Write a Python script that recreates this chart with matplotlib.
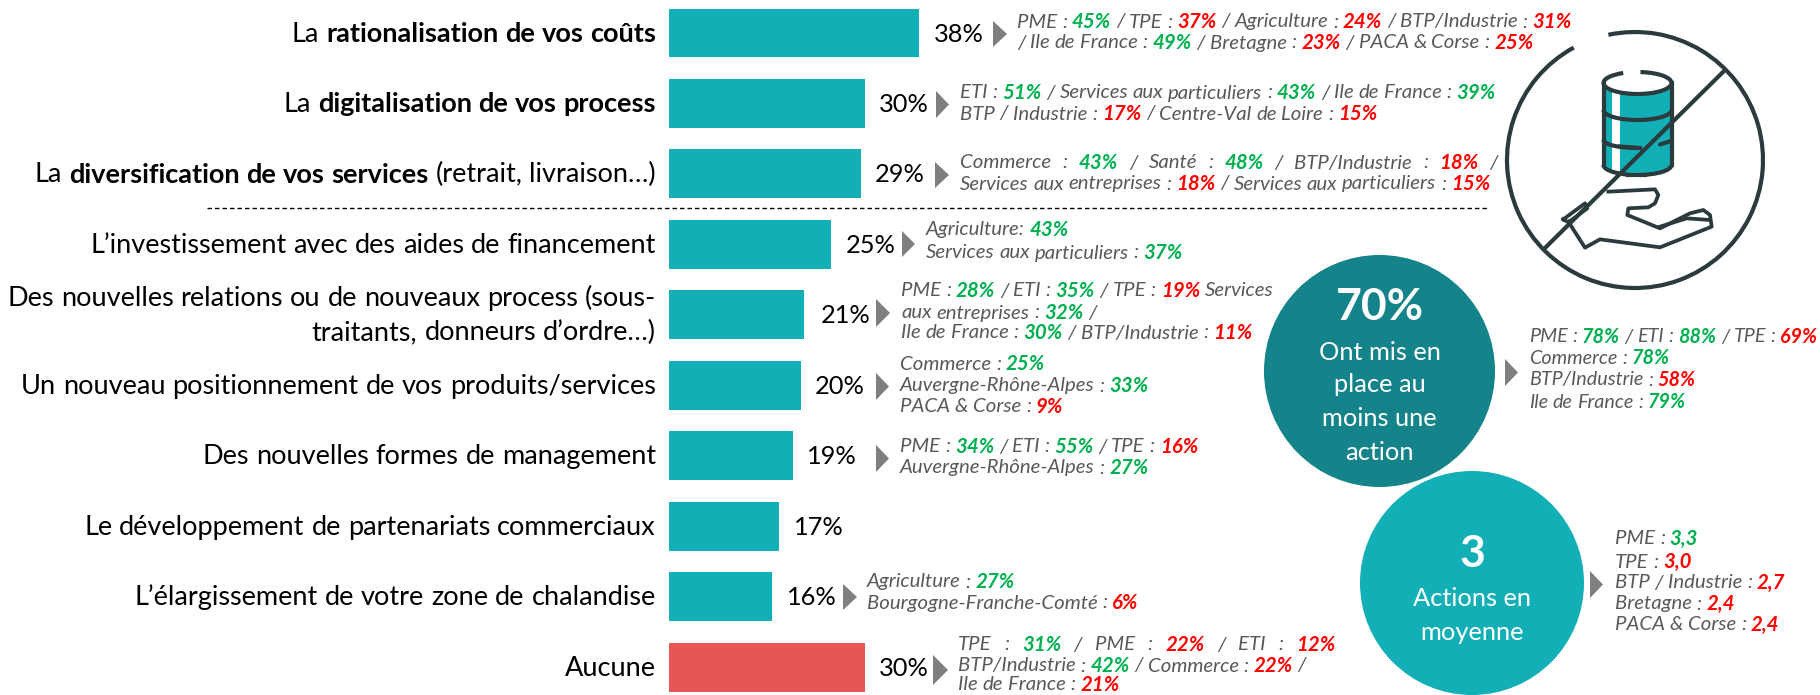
import re
import numpy as np
import matplotlib.pyplot as plt
from matplotlib.patches import Ellipse, Polygon, Arc

plt.rcParams['font.family'] = ['Lato', 'DejaVu Sans']

# data
values = [38.1, 29.9, 29.3, 24.7, 20.7, 20.1, 18.9, 16.8, 15.7, 29.9]
value_labels = ['38%', '30%', '29%', '25%', '21%', '20%', '19%', '17%', '16%', '30%']
# each label: list of lines, each line a list of (text, weight)
labels = [
    [[('La ', 'normal'), ('rationalisation de vos coûts', 'bold')]],
    [[('La ', 'normal'), ('digitalisation de vos process', 'bold')]],
    [[('La ', 'normal'), ('diversification de vos services', 'bold'), (' (retrait, livraison…)', 'normal')]],
    [[('L’investissement avec des aides de financement', 'normal')]],
    [[('Des nouvelles relations ou de nouveaux process (sous-', 'normal')],
     [('traitants, donneurs d’ordre…)', 'normal')]],
    [[('Un nouveau positionnement de vos produits/services', 'normal')]],
    [[('Des nouvelles formes de management', 'normal')]],
    [[('Le développement de partenariats commerciaux', 'normal')]],
    [[('L’élargissement de votre zone de chalandise', 'normal')]],
    [[('Aucune', 'normal')]],
]
# annotation text: t = plain, g = above average, r = below average
notes = [
    [[('PME : ', 't'), ('45%', 'g'), (' / TPE : ', 't'), ('37%', 'r'), (' / Agriculture : ', 't'), ('24%', 'r'), (' / BTP/Industrie : ', 't'), ('31%', 'r')],
     [('/ Ile de France : ', 't'), ('49%', 'g'), (' / Bretagne : ', 't'), ('23%', 'r'), (' / PACA & Corse : ', 't'), ('25%', 'r')]],
    [[('ETI : ', 't'), ('51%', 'g'), (' / Services aux particuliers : ', 't'), ('43%', 'g'), (' / Ile de France : ', 't'), ('39%', 'g')],
     [('BTP / Industrie : ', 't'), ('17%', 'r'), (' / Centre-Val de Loire : ', 't'), ('15%', 'r')]],
    [[('Commerce : ', 't'), ('43%', 'g'), (' / Santé : ', 't'), ('48%', 'g'), (' / BTP/Industrie : ', 't'), ('18%', 'r'), (' /', 't')],
     [('Services aux entreprises : ', 't'), ('18%', 'r'), (' / Services aux particuliers : ', 't'), ('15%', 'r')]],
    [[('Agriculture: ', 't'), ('43%', 'g')],
     [('Services aux particuliers : ', 't'), ('37%', 'g')]],
    [[('PME : ', 't'), ('28%', 'g'), (' / ETI : ', 't'), ('35%', 'g'), (' / TPE : ', 't'), ('19%', 'r'), (' Services', 't')],
     [('aux entreprises : ', 't'), ('32%', 'g'), (' /', 't')],
     [('Ile de France : ', 't'), ('30%', 'g'), (' / BTP/Industrie : ', 't'), ('11%', 'r')]],
    [[('Commerce : ', 't'), ('25%', 'g')],
     [('Auvergne-Rhône-Alpes : ', 't'), ('33%', 'g')],
     [('PACA & Corse : ', 't'), ('9%', 'r')]],
    [[('PME : ', 't'), ('34%', 'g'), (' / ETI : ', 't'), ('55%', 'g'), (' / TPE : ', 't'), ('16%', 'r')],
     [('Auvergne-Rhône-Alpes : ', 't'), ('27%', 'g')]],
    None,
    [[('Agriculture : ', 't'), ('27%', 'g')],
     [('Bourgogne-Franche-Comté : ', 't'), ('6%', 'r')]],
    [[('TPE : ', 't'), ('31%', 'g'), (' / PME : ', 't'), ('22%', 'r'), (' / ETI : ', 't'), ('12%', 'r')],
     [('BTP/Industrie : ', 't'), ('42%', 'g'), (' / Commerce : ', 't'), ('22%', 'r'), (' /', 't')],
     [('Ile de France : ', 't'), ('21%', 'r')]],
]
notes_70 = [
    [('PME : ', 't'), ('78%', 'g'), (' / ETI : ', 't'), ('88%', 'g'), (' / TPE : ', 't'), ('69%', 'r')],
    [('Commerce : ', 't'), ('78%', 'g')],
    [('BTP/Industrie : ', 't'), ('58%', 'r')],
    [('Ile de France : ', 't'), ('79%', 'g')],
]
notes_3 = [
    [('PME : ', 't'), ('3,3', 'g')],
    [('TPE : ', 't'), ('3,0', 'r')],
    [('BTP / Industrie : ', 't'), ('2,7', 'r')],
    [('Bretagne : ', 't'), ('2,4', 'r')],
    [('PACA & Corse : ', 't'), ('2,4', 'r')],
]

TEAL = '#13AFB6'
DARK_TEAL = '#14838A'
RED_BAR = '#E55757'
ICON = '#2B3A3C'
NOTE_COL = {'t': '#595959', 'g': '#00B050', 'r': '#FF0000'}

W, H = 1820, 695
fig = plt.figure(figsize=(W / 100, H / 100), dpi=100)
# overlay in pixel coordinates for the text and the drawing
ax = fig.add_axes([0, 0, 1, 1])
ax.set_xlim(0, W)
ax.set_ylim(H, 0)
ax.axis('off')

# bars
row_y0, row_step = 33, 70.45
bar_left = 668.5
px_per_pct = 6.57
ys = [row_y0 + i * row_step for i in range(len(values))]
bax = fig.add_axes([bar_left / W, 1 - (row_y0 + 9.5 * row_step) / H, 40 * px_per_pct / W, 10 * row_step / H], zorder=1)
bax.set_xlim(0, 40)
bax.set_ylim(9.5, -0.5)
bax.axis('off')
bar_cols = [TEAL] * 9 + [RED_BAR]
bax.barh(range(len(values)), values, height=0.695, color=bar_cols)
ax.set_zorder(2)
ax.patch.set_alpha(0)

renderer = fig.canvas.get_renderer()


def seg_width(s, **kw):
    # trailing/leading spaces are not measured, so pad with dots
    t = ax.text(0, 0, '.' + s + '.', **kw)
    w = t.get_window_extent(renderer).width
    t.set_text('..')
    w -= t.get_window_extent(renderer).width
    t.remove()
    return w


def rich_line(x, y, segs, size, right=None, end=None):
    kws = []
    for s, k in segs:
        if k in NOTE_COL:
            kws.append(dict(color=NOTE_COL[k], style='italic', fontweight='bold' if k != 't' else 'normal', fontsize=size))
        else:
            kws.append(dict(color='black', fontweight=k, fontsize=size))
    widths = [seg_width(s, **kw) for (s, _), kw in zip(segs, kws)]
    if right is not None:
        x = right - sum(widths)
    extra = 0
    if end is not None:
        # justified line, the slack goes into the spaces
        extra = (end - x - sum(widths)) / sum(s.count(' ') for s, _ in segs)
    for (s, _), kw in zip(segs, kws):
        for tok in re.split('( )', s):
            if tok == '':
                continue
            if tok == ' ':
                x += seg_width(' ', **kw) + extra
            else:
                ax.text(x, y, tok, va='center', ha='left', **kw)
                x += seg_width(tok, **kw)


def arrow(x0, x1, y0, y1):
    ax.add_patch(Polygon([(x0, y0), (x1, (y0 + y1) / 2), (x0, y1)], color='#7F7F7F', lw=0))


LABEL_SIZE = 19.5
VALUE_SIZE = 18.3
NOTE_SIZE = 14.7
label_right = 656
val_right = [984, 929, 925, 896, 870, 865, 857, 844, 837, 929]
arrows = [(993, 1007, 21, 47), (936, 949, 91, 118), (935, 949, 162, 188), (902, 915, 231, 257),
          (876, 890, 299, 327), (876, 889, 373, 400), (876, 889, 445, 472), None,
          (843, 857, 584, 610), (933, 948, 655, 685)]
note_x = [1017, 960, 960, 926, 901, 900, 900, None, 867, 958]
note_y = [[22, 43], [93, 114], [163, 184], [230, 253], [291, 313, 333], [364, 386, 407],
          [447, 468], None, [582, 603], [645, 666, 685]]
justify = {(2, 0): 1498, (9, 0): 1335}

for i in range(len(values)):
    lines = labels[i]
    if len(lines) == 1:
        rich_line(0, ys[i] + 1, lines[0], LABEL_SIZE, right=label_right)
    else:
        rich_line(0, ys[i] - 16, lines[0], LABEL_SIZE, right=label_right)
        rich_line(0, ys[i] + 18, lines[1], LABEL_SIZE, right=label_right)
    ax.text(val_right[i], ys[i] + 1, value_labels[i], ha='right', va='center', fontsize=VALUE_SIZE, color='black')
    if arrows[i]:
        arrow(*arrows[i])
    if notes[i]:
        for j, (ln, ny) in enumerate(zip(notes[i], note_y[i])):
            rich_line(note_x[i], ny, ln, NOTE_SIZE, end=justify.get((i, j)))

ax.plot([207, 1489], [208, 208], color='black', lw=1, dashes=(3.2, 2.2))

# circles
ax.add_patch(Ellipse((1379.5, 371), 231, 232, color=DARK_TEAL, lw=0))
ax.add_patch(Ellipse((1472, 583), 224, 224, color=TEAL, lw=0, zorder=3))
ax.text(1379.5, 307, '70%', color='white', fontsize=32, fontweight='bold', ha='center', va='center')
for t, y in zip(['Ont mis en', 'place au', 'moins une', 'action'], [352, 384, 418, 452]):
    ax.text(1379.5, y, t, color='white', fontsize=18.3, ha='center', va='center')
ax.text(1472, 554, '3', color='white', fontsize=32, fontweight='bold', ha='center', va='center', zorder=4)
for t, y in zip(['Actions en', 'moyenne'], [598, 632]):
    ax.text(1472, y, t, color='white', fontsize=18.3, ha='center', va='center', zorder=4)
arrow(1505, 1518, 359, 386)
arrow(1590, 1603, 571, 598)
for ln, y in zip(notes_70, [337, 358, 380, 402]):
    rich_line(1529, y, ln, 14.2)
for ln, y in zip(notes_3, [539, 562, 583, 604, 625]):
    rich_line(1615, y, ln, NOTE_SIZE)

# icon: crossed out cylinder over a hand
ilw = 3.0
cx, hw = 1637.5, 34
t = np.linspace(0, np.pi, 40)
top_edge = [(cx - hw * np.cos(a), 83 + 11 * np.sin(a)) for a in t]
bottom_edge = [(cx + hw * np.cos(a), 165 + 10 * np.sin(a)) for a in t]
body = np.array(top_edge + bottom_edge)
ax.add_patch(Polygon(body, color=TEAL, lw=0))
# white strip on the left of the cylinder
ax.fill_between([1612, 1620], 60, 180, color='white', lw=0)
ax.add_patch(Arc((1635, 160), 256, 256, theta1=-102, theta2=241.4, color=ICON, lw=ilw))
ax.add_patch(Arc((cx, 83), 68, 22, theta1=0, theta2=180, color=ICON, lw=ilw))
ax.add_patch(Arc((cx, 83), 68, 22, theta1=-75, theta2=0, color=ICON, lw=ilw))
ax.add_patch(Arc((cx, 83), 68, 22, theta1=180, theta2=215, color=ICON, lw=ilw))
ax.add_patch(Arc((cx, 110), 68, 20, theta1=0, theta2=180, color=ICON, lw=ilw))
ax.add_patch(Arc((cx, 140), 68, 16, theta1=90, theta2=180, color=ICON, lw=ilw))
ax.plot([1640, 1620], [148, 146.5], color=ICON, lw=ilw)
ax.plot([1660, 1671], [144.5, 141], color=ICON, lw=ilw, solid_capstyle='round')
ax.add_patch(Arc((cx, 165), 68, 20, theta1=0, theta2=80, color=ICON, lw=ilw))
ax.plot([1628, 1645], [175, 175], color=ICON, lw=ilw)
ax.add_patch(Arc((cx, 165), 68, 20, theta1=130, theta2=180, color=ICON, lw=ilw))
ax.plot([cx - hw, cx - hw], [83, 165], color=ICON, lw=ilw)
ax.plot([cx + hw, cx + hw], [83, 165], color=ICON, lw=ilw)
ax.plot([1723, 1545], [72, 248], color=ICON, lw=ilw)
# hand, from the crop of the icon
hand_o = np.array([1500, 160])
hand = np.array([(325, 95), (465, 88), (475, 105), (465, 130), (445, 142), (385, 145), (382, 165),
                 (480, 205), (570, 160), (610, 150), (630, 165), (635, 200), (480, 262), (300, 238),
                 (255, 263), (205, 185)]) / 3 + hand_o
finger = np.array([(480, 200), (560, 175), (630, 180)]) / 3 + hand_o
cuff = np.array([(190, 178), (255, 130), (262, 145), (205, 187), (190, 178)]) / 3 + hand_o
for pts in [hand, finger, cuff]:
    ax.plot(pts[:, 0], pts[:, 1], color=ICON, lw=ilw * 0.9, solid_joinstyle='round')

fig.savefig('out.png', dpi=100)
